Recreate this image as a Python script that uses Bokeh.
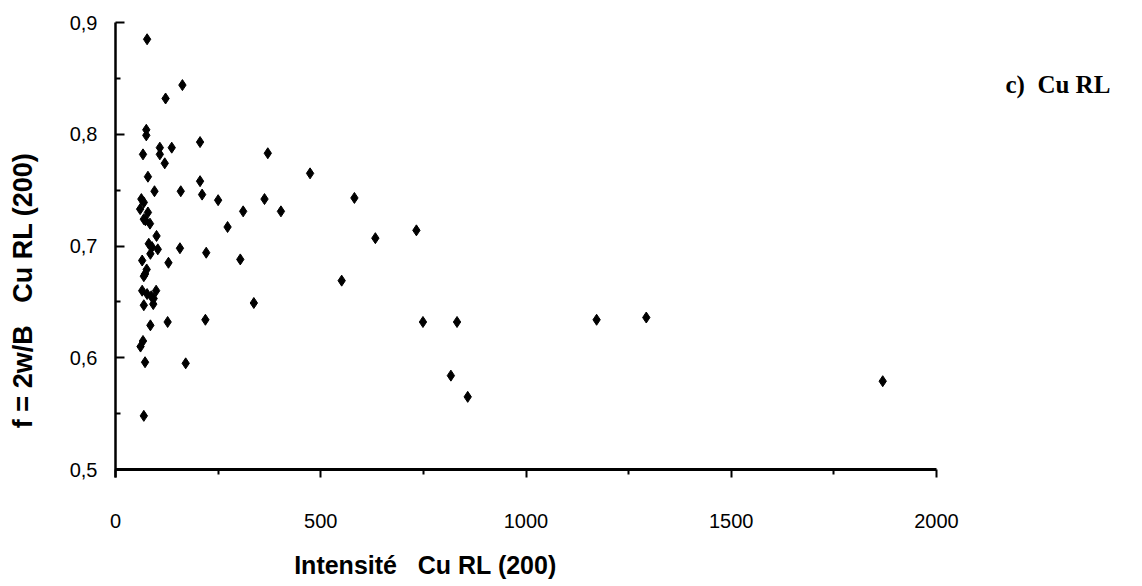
import math
from bokeh.plotting import figure
from bokeh.models import Range1d, FixedTicker, CustomJSTickFormatter, Label, ColumnDataSource
from bokeh.embed import file_html
from bokeh.resources import INLINE

# ---- data ----
intensite = [77, 163, 122, 75, 75, 206, 67, 108, 108, 137, 120, 371, 79, 206, 95, 159,
             211, 250, 363, 63, 69, 60, 311, 403, 79, 69, 84, 73, 273, 100, 81, 89,
             103, 85, 157, 221, 65, 129, 304, 76, 72, 69, 65, 77, 87, 99, 93, 69, 92,
             337, 85, 127, 219, 67, 61, 72, 171, 69, 474, 582, 633, 733, 551, 749,
             832, 1172, 1293, 1869, 817, 858]
facteur_f = [0.885, 0.844, 0.832, 0.804, 0.799, 0.793, 0.782, 0.788, 0.782, 0.788,
             0.774, 0.783, 0.762, 0.758, 0.749, 0.749, 0.746, 0.741, 0.742, 0.742,
             0.739, 0.733, 0.731, 0.731, 0.730, 0.724, 0.720, 0.723, 0.717, 0.709,
             0.702, 0.699, 0.697, 0.693, 0.698, 0.694, 0.687, 0.685, 0.688, 0.679,
             0.675, 0.673, 0.660, 0.657, 0.655, 0.660, 0.653, 0.647, 0.648, 0.649,
             0.629, 0.632, 0.634, 0.615, 0.610, 0.596, 0.595, 0.548, 0.765, 0.743,
             0.707, 0.714, 0.669, 0.632, 0.632, 0.634, 0.636, 0.579, 0.584, 0.565]

x_ticks = [0, 500, 1000, 1500, 2000]
x_minor = [250, 750, 1250, 1750]
y_ticks = [0.5, 0.6, 0.7, 0.8, 0.9]
y_minor = [0.55, 0.65, 0.75, 0.85]

x_title = "Intensit\u00e9\u00a0\u00a0 Cu RL (200)"
y_title = "f = 2w/B\u00a0\u00a0 Cu RL (200)"
panel_title = "c)\u00a0 Cu RL"

src = ColumnDataSource(dict(x=intensite, y=facteur_f))

# frame covers the whole canvas; axes are pinned at x=0 / y=0.5
W, H = 1142, 586
px_per_x = 821 / 2000.0
px_per_y = 447 / 0.4
x0_px, y05_px = 115, 469
xr = Range1d(-x0_px / px_per_x, (W - x0_px) / px_per_x)
yr = Range1d(0.5 - (H - y05_px) / px_per_y, 0.5 + y05_px / px_per_y)

p = figure(width=W, height=H, output_backend="svg", toolbar_location=None,
           x_range=xr, y_range=yr, min_border=0)
p.outline_line_color = None
p.xgrid.visible = False
p.ygrid.visible = False
p.background_fill_color = "white"
p.border_fill_color = "white"

p.scatter("x", "y", source=src, marker="diamond", size=11, color="black")

xa = p.xaxis[0]
xa.fixed_location = 0.5
xa.bounds = (0, 2000)
xa.ticker = FixedTicker(ticks=x_ticks, minor_ticks=x_minor)
xa.axis_line_width = 3
xa.axis_line_color = "black"
xa.major_tick_in = 0
xa.major_tick_out = 8
xa.minor_tick_in = 0
xa.minor_tick_out = 5
xa.major_tick_line_width = 2
xa.minor_tick_line_width = 2
xa.major_label_standoff = 36
xa.major_label_text_font = "Liberation Sans"
xa.major_label_text_font_size = "20px"
xa.major_label_text_color = "black"

ya = p.yaxis[0]
ya.fixed_location = 0
ya.bounds = (0.493, 0.9)
ya.ticker = FixedTicker(ticks=y_ticks, minor_ticks=y_minor)
ya.formatter = CustomJSTickFormatter(code="return tick.toFixed(1).replace('.', ',');")
ya.axis_line_width = 2.5
ya.axis_line_color = "black"
ya.major_tick_in = 9
ya.major_tick_out = 0
ya.minor_tick_in = 5
ya.minor_tick_out = 0
ya.major_tick_line_width = 2
ya.minor_tick_line_width = 2
ya.major_label_standoff = 18
ya.major_label_text_font = "Liberation Sans"
ya.major_label_text_font_size = "20px"
ya.major_label_text_color = "black"

p.add_layout(Label(x=755, y=0.4141, text=x_title, text_align="center", text_baseline="middle",
                   text_font="Liberation Sans", text_font_style="bold", text_font_size="25px",
                   text_color="black"))
p.add_layout(Label(x=-226.5, y=0.6602, text=y_title, angle=math.pi / 2, text_align="center",
                   text_baseline="middle", text_font="Liberation Sans", text_font_style="bold",
                   text_font_size="27px", text_color="black"))
p.add_layout(Label(x=2168, y=0.8445, text=panel_title, text_align="left", text_baseline="middle",
                   text_font="Liberation Serif", text_font_style="bold", text_font_size="25px",
                   text_color="black"))

open("out.html", "w").write(file_html(p, INLINE))
